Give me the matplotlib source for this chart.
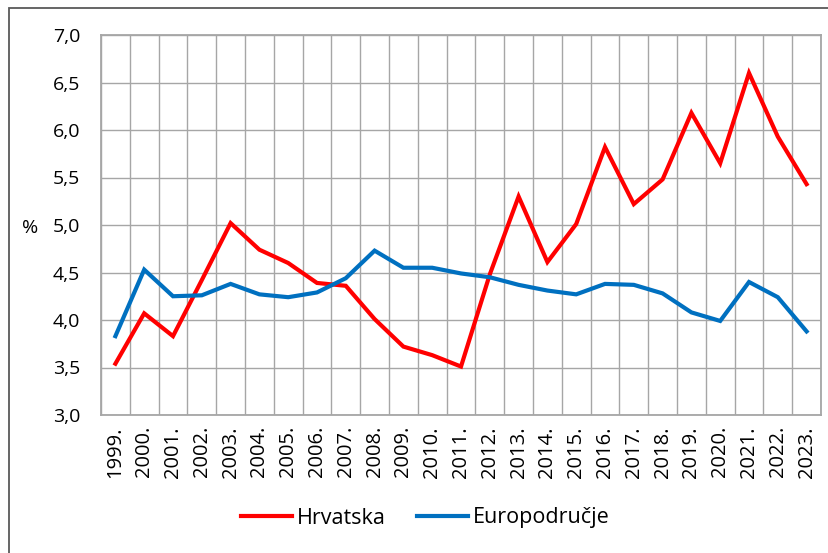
import matplotlib
matplotlib.use("Agg")
import matplotlib.pyplot as plt
from matplotlib.patches import Rectangle
import numpy as np

years = ["1999.", "2000.", "2001.", "2002.", "2003.", "2004.", "2005.", "2006.", "2007.",
         "2008.", "2009.", "2010.", "2011.", "2012.", "2013.", "2014.", "2015.", "2016.",
         "2017.", "2018.", "2019.", "2020.", "2021.", "2022.", "2023."]
hrvatska = [3.54, 4.07, 3.83, 4.42, 5.02, 4.74, 4.60, 4.39, 4.36, 4.01, 3.72, 3.63, 3.51,
            4.48, 5.30, 4.61, 5.01, 5.82, 5.22, 5.48, 6.18, 5.65, 6.60, 5.93, 5.43]
europodrucje = [3.83, 4.53, 4.25, 4.26, 4.38, 4.27, 4.24, 4.29, 4.44, 4.73, 4.55, 4.55, 4.49,
                4.45, 4.37, 4.31, 4.27, 4.38, 4.37, 4.28, 4.08, 3.99, 4.40, 4.24, 3.88]
yticks = [3.0, 3.5, 4.0, 4.5, 5.0, 5.5, 6.0, 6.5, 7.0]
ytick_labels = ["3,0", "3,5", "4,0", "4,5", "5,0", "5,5", "6,0", "6,5", "7,0"]

plt.rcParams['font.family'] = ['Open Sans', 'DejaVu Sans']

W, H = 829, 553
fig = plt.figure(figsize=(W / 100, H / 100), dpi=100)
ax = fig.add_axes([101 / W, 1 - 415 / H, 720 / W, 380 / H])

x = np.arange(len(years))
ax.plot(x, hrvatska, color="#FF0000", lw=3.0, label="Hrvatska", solid_joinstyle="miter", zorder=3)
ax.plot(x, europodrucje, color="#0070C0", lw=3.0, label="Europodručje", solid_joinstyle="miter", zorder=3)

ax.set_xlim(-0.5, len(years) - 0.5)
ax.set_ylim(3.0, 7.0)
ax.set_yticks(yticks)
ax.set_yticklabels(ytick_labels, fontsize=14)
ax.set_xticks(x)
ax.set_xticklabels(years, rotation=90, fontsize=14.5)
ax.set_xticks(np.arange(-0.5, len(years)), minor=True)
ax.tick_params(axis="both", which="both", length=0)
ax.tick_params(axis="y", pad=15)
ax.tick_params(axis="x", pad=8)
ax.grid(True, axis="y", which="major", color="#A6A6A6", lw=1.0)
ax.grid(True, axis="x", which="minor", color="#A6A6A6", lw=1.0)
ax.grid(False, axis="x", which="major")
for s in ax.spines.values():
    s.set_color("#A6A6A6")
    s.set_linewidth(1.3)

fig.text(30 / W, 1 - 228 / H, "%", fontsize=14, ha="center", va="center")

leg = fig.legend(loc="center", bbox_to_anchor=(425 / W, 1 - 518 / H), ncol=2, frameon=False,
                 fontsize=15.5, handlelength=2.37, columnspacing=1.44, handletextpad=0.23)

fig.add_artist(Rectangle((9 / W, -0.1), 1.2, 1.1 - 8 / H, transform=fig.transFigure,
                         fill=False, edgecolor="#595959", lw=1.3))

fig.savefig("out.png", dpi=100)
